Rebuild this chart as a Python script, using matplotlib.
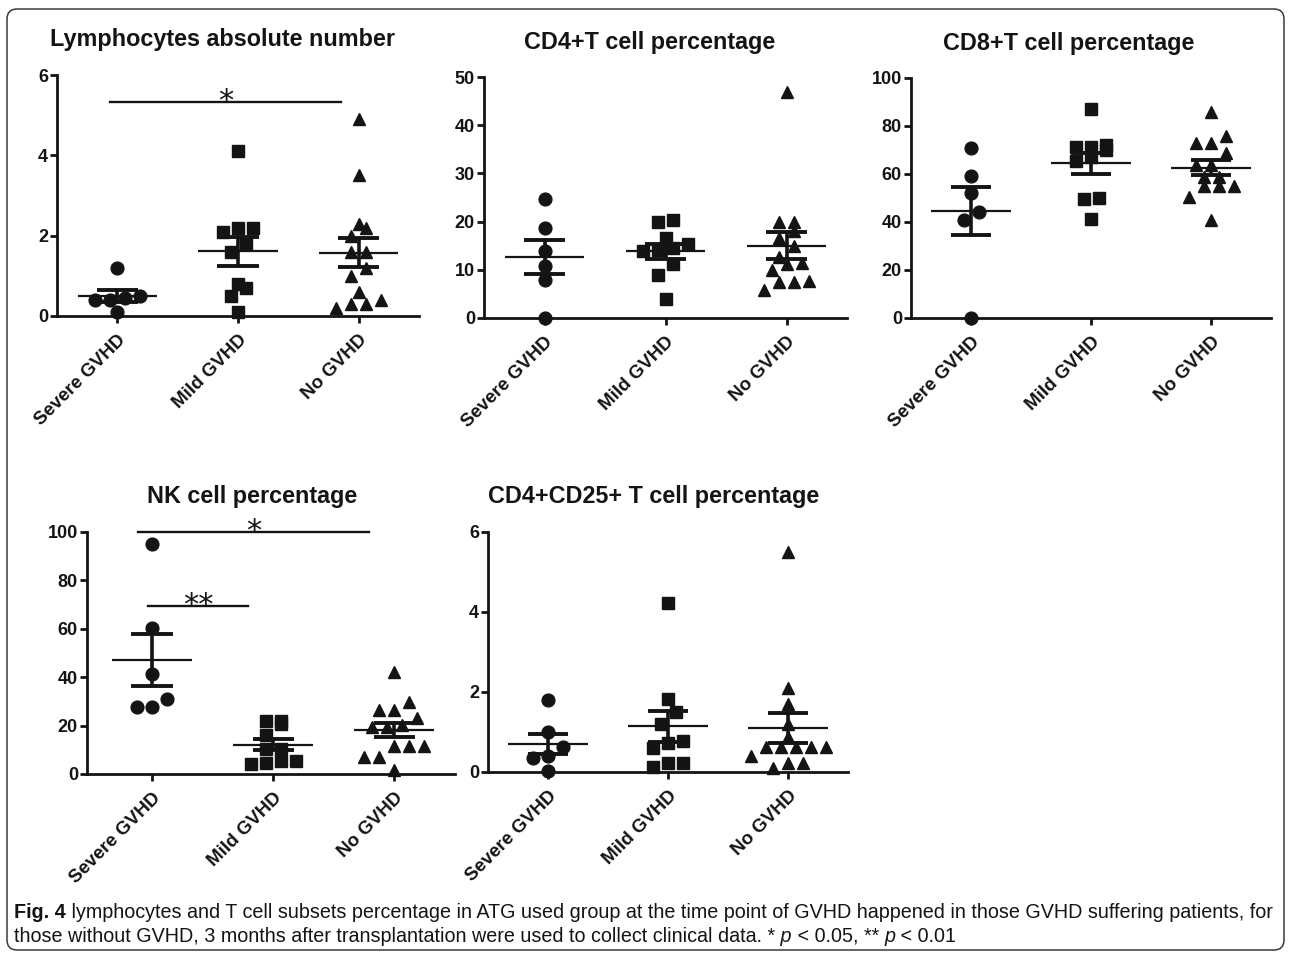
import numpy as np
import matplotlib.pyplot as plt
from matplotlib.patches import FancyBboxPatch

W, H = 1290, 958
INK = "#141414"

plt.rcParams["font.family"] = ["Liberation Sans", "DejaVu Sans"]

groups = ["Severe GVHD", "Mild GVHD", "No GVHD"]
markers = ["o", "s", "^"]
marker_sizes = [9.2, 8.0, 8.6]

# values, one list per group
lym_severe = [1.2, 0.5, 0.45, 0.4, 0.4, 0.1]
lym_mild = [4.1, 2.2, 2.2, 2.1, 1.8, 1.6, 0.8, 0.7, 0.5, 0.1]
lym_none = [4.9, 3.5, 2.3, 2.2, 2.0, 1.6, 1.6, 1.2, 1.0, 0.6, 0.4, 0.3, 0.3, 0.2]

cd4_severe = [24.7, 18.7, 13.8, 10.8, 7.9, 0.0]
cd4_mild = [20.4, 19.9, 16.5, 15.3, 14.5, 14.2, 13.8, 11.3, 8.9, 3.9]
cd4_none = [46.9, 20.0, 20.0, 18.1, 16.5, 15.0, 12.6, 11.5, 11.3, 10.0, 7.7, 7.5, 7.5, 5.8]

cd8_severe = [71.0, 59.0, 52.2, 44.3, 40.8, 0.0]
cd8_mild = [87.0, 72.1, 71.4, 71.4, 70.0, 67.2, 65.4, 50.1, 49.4, 41.2]
cd8_none = [86.0, 76.0, 72.8, 72.8, 68.6, 63.8, 63.8, 58.6, 58.6, 55.0, 55.0, 55.0, 50.5, 40.8]

nk_severe = [95.0, 60.5, 41.5, 31.0, 27.5, 27.5]
nk_mild = [22.0, 22.0, 20.7, 16.1, 10.5, 10.2, 5.5, 5.4, 4.7, 4.1]
nk_none = [42.3, 29.6, 26.4, 26.4, 23.0, 20.2, 19.3, 19.3, 11.6, 11.6, 11.6, 6.9, 6.9, 1.7]

treg_severe = [1.8, 1.0, 0.62, 0.4, 0.34, 0.02]
treg_mild = [4.22, 1.82, 1.49, 1.2, 0.78, 0.72, 0.6, 0.22, 0.22, 0.13]
treg_none = [5.5, 2.1, 1.7, 1.2, 0.88, 0.62, 0.62, 0.62, 0.62, 0.62, 0.41, 0.22, 0.22, 0.11]

titles = ["Lymphocytes absolute number", "CD4+T cell percentage",
          "CD8+T cell percentage", "NK cell percentage",
          "CD4+CD25+ T cell percentage"]
yticks = [[0, 2, 4, 6], [0, 10, 20, 30, 40, 50], [0, 20, 40, 60, 80, 100],
          [0, 20, 40, 60, 80, 100], [0, 2, 4, 6]]

# significance bars: (panel, x from, x to, y, label)
sig_bars = [(0, -0.06, 1.85, 5.34, "*"),
            (3, -0.12, 1.79, 100.0, "*"),
            (3, -0.03, 0.79, 69.5, "**")]

caption_1 = (" lymphocytes and T cell subsets percentage in ATG used group at the time point "
             "of GVHD happened in those GVHD suffering patients, for")
caption_2 = "those without GVHD, 3 months after transplantation were used to collect clinical data. *"


def swarm_x(ax, center, values, size_px=12.0, step_px=15.0):
    # spread points that sit on the same level, like a column scatter
    vals = np.asarray(values, float)
    to_px = ax.transData.transform
    ypx = to_px(np.column_stack([np.zeros_like(vals), vals]))[:, 1]
    unit_px = to_px((1, 0))[0] - to_px((0, 0))[0]
    rows = []
    for idx in np.argsort(vals, kind="stable"):
        if rows and ypx[idx] - ypx[rows[-1][0]] < size_px:
            rows[-1].append(idx)
        else:
            rows.append([idx])
    offsets = np.zeros_like(vals)
    for row in rows:
        n = len(row)
        for k, idx in enumerate(row):
            offsets[idx] = (k - (n - 1) / 2) * step_px / unit_px
    return center + offsets


def px_axes(fig, left, top, right, bottom):
    return fig.add_axes([left / W, 1 - bottom / H, (right - left) / W, (bottom - top) / H])


def chain_text(ax, prev, pieces, size, family):
    for txt, style in pieces:
        prev = ax.annotate(txt, xy=(1, 0), xycoords=prev, ha="left", va="bottom",
                           fontsize=size, family=family, style=style, color=INK)
    return prev


fig = plt.figure(figsize=(W / 100, H / 100), dpi=100)

boxes = [(57, 75, 419, 316), (484, 77, 847, 318), (911, 78, 1271, 318),
         (87, 532, 455, 774), (488, 532, 848, 772)]
xlefts = [-0.5, -0.5, -0.5, -0.537, -0.5]
title_pos = [(222, 46), (650, 49), (1069, 50), (252, 503), (654, 503)]
panel_data = [(lym_severe, lym_mild, lym_none), (cd4_severe, cd4_mild, cd4_none),
              (cd8_severe, cd8_mild, cd8_none), (nk_severe, nk_mild, nk_none),
              (treg_severe, treg_mild, treg_none)]

axes = []
for p, data in enumerate(panel_data):
    ax = px_axes(fig, *boxes[p])
    axes.append(ax)
    ax.set_xlim(xlefts[p], 2.5)
    ax.set_ylim(yticks[p][0], yticks[p][-1])
    for side in ["top", "right"]:
        ax.spines[side].set_visible(False)
    for side in ["left", "bottom"]:
        ax.spines[side].set_linewidth(2.0)
        ax.spines[side].set_color(INK)
    ax.set_yticks(yticks[p])
    ax.set_yticklabels([str(t) for t in yticks[p]], fontsize=13, fontweight="bold")
    ax.set_xticks(range(3))
    ax.set_xticklabels(groups, rotation=45, ha="right", rotation_mode="anchor",
                       fontsize=13.5, fontweight="bold")
    ax.tick_params(axis="both", width=2.0, length=5, color=INK, labelcolor=INK)
    ax.tick_params(axis="y", pad=1.5)
    ax.tick_params(axis="x", pad=6)

    for i, vals in enumerate(data):
        vals = np.asarray(vals, float)
        xs = swarm_x(ax, i, vals)
        ax.plot(xs, vals, linestyle="none", marker=markers[i], ms=marker_sizes[i],
                color=INK, mec=INK, clip_on=False, zorder=3)
        mean = vals.mean()
        sem = vals.std(ddof=1) / np.sqrt(len(vals))
        ax.hlines(mean, i - 0.33, i + 0.33, color=INK, lw=1.6, zorder=4)
        ax.vlines(i, mean - sem, mean + sem, color=INK, lw=2.6, zorder=4)
        ax.hlines([mean - sem, mean + sem], i - 0.17, i + 0.17, color=INK, lw=2.8, zorder=4)

    tx, ty = title_pos[p]
    fig.text(tx / W, 1 - ty / H, titles[p], ha="center", va="baseline",
             fontsize=16.8, fontweight="bold", color=INK)

for p, x0, x1, y, label in sig_bars:
    ax = axes[p]
    ax.plot([x0, x1], [y, y], color=INK, lw=1.7, clip_on=False, zorder=4)
    ax.annotate(label, xy=((x0 + x1) / 2, y), xytext=(0, -6), textcoords="offset points",
                ha="center", va="baseline", fontsize=22, family="DejaVu Sans",
                color=INK, annotation_clip=False)

# caption
cap_font = ["Liberation Sans", "DejaVu Sans"]
cap_size = 14.2
t1 = fig.text(14 / W, 1 - 918 / H, "Fig. 4", fontsize=cap_size, fontweight="bold",
              family=cap_font, va="baseline", color=INK)
chain_text(axes[0], t1, [(caption_1, "normal")], cap_size, cap_font)
t2 = fig.text(14 / W, 1 - 942 / H, caption_2, fontsize=cap_size, family=cap_font,
              va="baseline", color=INK)
chain_text(axes[0], t2, [(" p", "italic"), (" < 0.05, ** ", "normal"), ("p", "italic"),
                         (" < 0.01", "normal")], cap_size, cap_font)

# rounded frame around the whole figure
frame = FancyBboxPatch((7 / 100, (H - 950) / 100), (1284 - 7) / 100, (950 - 9) / 100,
                       boxstyle="round,pad=0,rounding_size=0.1",
                       transform=fig.dpi_scale_trans, fill=False, ec="#3a3a3a", lw=1.1)
fig.add_artist(frame)

fig.savefig("out.png", dpi=100)
